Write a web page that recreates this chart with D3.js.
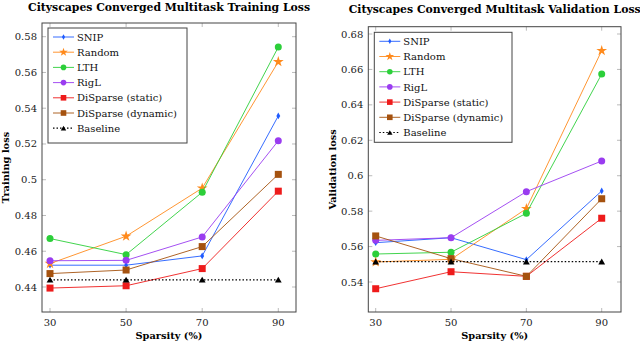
<!DOCTYPE html>
<html>
<head>
<meta charset="utf-8">
<script src="https://cdn.jsdelivr.net/npm/d3@7"></script>
<style>
  body { margin: 0; background: #fff; }
  .title { font-weight: bold; font-size: 10.5px; }
  .axlabel { font-weight: bold; font-size: 9.8px; }
  .tick-label { font-size: 10px; fill: #222; }
  .legend text { font-size: 10px; fill: #111; }
</style>
</head>
<body>
<div id="chart"></div>
<script>
// sparsity levels on the x axis
const SPARSITY = [30, 50, 70, 90];

const METHODS = ["SNIP", "Random", "LTH", "RigL", "DiSparse (static)", "DiSparse (dynamic)", "Baseline"];

// training loss per method, at each sparsity
const TRAIN_SNIP    = [0.4522, 0.4522, 0.4574, 0.5357];
const TRAIN_RANDOM  = [0.4531, 0.4684, 0.4953, 0.5660];
const TRAIN_LTH     = [0.4671, 0.4581, 0.4930, 0.5742];
const TRAIN_RIGL    = [0.4547, 0.4549, 0.4680, 0.5218];
const TRAIN_STATIC  = [0.4394, 0.4407, 0.4503, 0.4936];
const TRAIN_DYNAMIC = [0.4475, 0.4495, 0.4626, 0.5030];
const TRAIN_BASE    = [0.4440, 0.4440, 0.4440, 0.4440];

// validation loss per method
const VAL_SNIP    = [0.5622, 0.5650, 0.5526, 0.5914];
const VAL_RANDOM  = [0.5513, 0.5528, 0.5814, 0.6706];
const VAL_LTH     = [0.5558, 0.5568, 0.5788, 0.6574];
const VAL_RIGL    = [0.5635, 0.5650, 0.5910, 0.6083];
const VAL_STATIC  = [0.5362, 0.5458, 0.5432, 0.5760];
const VAL_DYNAMIC = [0.5660, 0.5532, 0.5432, 0.5870];
const VAL_BASE    = [0.5515, 0.5515, 0.5515, 0.5515];

const TRAIN_TICKS = [0.44, 0.46, 0.48, 0.5, 0.52, 0.54, 0.56, 0.58];
const VAL_TICKS   = [0.54, 0.56, 0.58, 0.6, 0.62, 0.64, 0.66, 0.68];

// look of each series: colour, marker, dash
const STYLE = {
  "SNIP":               {color: "#1f5bff", marker: "diamond"},
  "Random":             {color: "#ff8a1c", marker: "star"},
  "LTH":                {color: "#2ccf3a", marker: "circle"},
  "RigL":               {color: "#9a3cf0", marker: "circle"},
  "DiSparse (static)":  {color: "#ee1b1b", marker: "square"},
  "DiSparse (dynamic)": {color: "#a5520f", marker: "square"},
  "Baseline":           {color: "#000000", marker: "triangle", dash: "1.5,2"}
};

const SERIF = "'DejaVu Serif', 'Liberation Serif', serif";
const W = 640, H = 344;
const svg = d3.select("#chart").append("svg").attr("width", W).attr("height", H)
    .attr("font-family", SERIF);

function marker(g, type, x, y, color, s){
  s = s || 1;
  if (type === "circle"){
    g.append("circle").attr("cx", x).attr("cy", y).attr("r", 3.5 * s).attr("fill", color);
  } else if (type === "square"){
    g.append("rect").attr("x", x - 3.5 * s).attr("y", y - 3.5 * s).attr("width", 7 * s).attr("height", 7 * s)
        .attr("fill", color);
  } else {
    const sym = {star: d3.symbolStar, diamond: d3.symbolDiamond, triangle: d3.symbolTriangle}[type];
    const size = {star: 36, diamond: 13, triangle: 20}[type];
    g.append("path").attr("d", d3.symbol(sym, size * s * s)())
        .attr("transform", `translate(${x},${y + (type === "triangle" ? 0.8 : 0)})`)
        .attr("fill", color);
  }
}

function drawPanel(p){
  const g = svg.append("g");

  const x = d3.scaleLinear().domain([30, 90]).range(p.xr);
  const y = d3.scaleLinear().domain([p.yTicks[0], p.yTicks[p.yTicks.length - 1]]).range(p.yr);

  // inward ticks on all four sides
  const tk = g.append("g").attr("stroke", "#aaa").attr("stroke-width", 0.8);
  SPARSITY.forEach(v => {
    tk.append("line").attr("x1", x(v)).attr("x2", x(v)).attr("y1", p.box[3]).attr("y2", p.box[3] - 4);
    tk.append("line").attr("x1", x(v)).attr("x2", x(v)).attr("y1", p.box[1]).attr("y2", p.box[1] + 4);
  });
  p.yTicks.forEach(v => {
    tk.append("line").attr("x1", p.box[0]).attr("x2", p.box[0] + 4).attr("y1", y(v)).attr("y2", y(v));
    tk.append("line").attr("x1", p.box[2]).attr("x2", p.box[2] - 4).attr("y1", y(v)).attr("y2", y(v));
  });

  // tick labels
  g.selectAll(".xt").data(SPARSITY).join("text").attr("class", "tick-label")
      .attr("x", d => x(d)).attr("y", p.box[3] + 14).attr("text-anchor", "middle").text(d => d);
  g.selectAll(".yt").data(p.yTicks).join("text").attr("class", "tick-label")
      .attr("x", p.box[0] - 5).attr("y", d => y(d) + 3.5).attr("text-anchor", "end")
      .text(d => d3.format("")(+d.toFixed(2)));

  // series
  const line = d3.line().x((d, i) => x(SPARSITY[i])).y(d => y(d));
  METHODS.forEach((m, k) => {
    const st = STYLE[m], vals = p.series[k];
    g.append("path").datum(vals).attr("d", line).attr("fill", "none")
        .attr("stroke", st.color).attr("stroke-width", st.dash ? 1.2 : 0.9)
        .attr("stroke-dasharray", st.dash || null);
    vals.forEach((v, i) => marker(g, st.marker, x(SPARSITY[i]), y(v), st.color));
  });

  // frame
  g.append("rect").attr("x", p.box[0]).attr("y", p.box[1])
      .attr("width", p.box[2] - p.box[0]).attr("height", p.box[3] - p.box[1])
      .attr("fill", "none").attr("stroke", "#444").attr("stroke-width", 1);

  // legend
  const lg = g.append("g").attr("class", "legend");
  lg.append("rect").attr("x", p.leg[0]).attr("y", p.leg[1]).attr("width", p.leg[2]).attr("height", p.leg[3])
      .attr("fill", "#fff").attr("stroke", "#444").attr("stroke-width", 1);
  METHODS.forEach((m, k) => {
    const st = STYLE[m];
    const ly = p.leg[1] + 9 + k * 15.2;
    const lx = p.leg[0] + 5;
    lg.append("line").attr("x1", lx).attr("x2", lx + 21).attr("y1", ly).attr("y2", ly)
        .attr("stroke", st.color).attr("stroke-width", st.dash ? 1.2 : 0.9)
        .attr("stroke-dasharray", st.dash || null);
    marker(lg, st.marker, lx + 10.5, ly, st.color, 0.8);
    lg.append("text").attr("x", lx + 24).attr("y", ly + 3.6).text(m);
  });

  // titles
  const cx = (p.box[0] + p.box[2]) / 2;
  g.append("text").attr("class", "title")
      .attr("x", cx).attr("y", p.titleY).attr("text-anchor", "middle")
      .attr("textLength", p.titleLen).attr("lengthAdjust", "spacingAndGlyphs").text(p.title);
  g.append("text").attr("class", "axlabel")
      .attr("x", cx).attr("y", 339).attr("text-anchor", "middle")
      .text("Sparsity (%)");
  g.append("text").attr("class", "axlabel")
      .attr("transform", `translate(${p.yLabelX},${(p.box[1] + p.box[3]) / 2}) rotate(-90)`)
      .attr("text-anchor", "middle").text(p.yLabel);
}

drawPanel({
  box: [42, 23, 296, 312], xr: [50, 278.3], yr: [287, 36.7], yTicks: TRAIN_TICKS,
  series: [TRAIN_SNIP, TRAIN_RANDOM, TRAIN_LTH, TRAIN_RIGL, TRAIN_STATIC, TRAIN_DYNAMIC, TRAIN_BASE],
  leg: [48, 28, 139, 115],
  title: "Cityscapes Converged Multitask Training Loss", titleLen: 282, titleY: 10.5,
  yLabel: "Training loss", yLabelX: 9
});

drawPanel({
  box: [368.3, 26.7, 621, 312], xr: [375.7, 601.7], yr: [282, 34], yTicks: VAL_TICKS,
  series: [VAL_SNIP, VAL_RANDOM, VAL_LTH, VAL_RIGL, VAL_STATIC, VAL_DYNAMIC, VAL_BASE],
  leg: [374.3, 32.3, 137.7, 110],
  title: "Cityscapes Converged Multitask Validation Loss", titleLen: 292, titleY: 13,
  yLabel: "Validation loss", yLabelX: 336
});
</script>
</body>
</html>
